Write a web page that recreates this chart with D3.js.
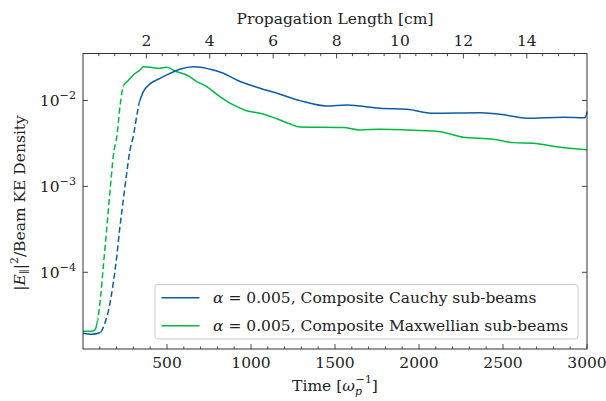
<!DOCTYPE html>
<html>
<head>
<meta charset="utf-8">
<script src="https://cdn.jsdelivr.net/npm/d3@7"></script>
<style>
  body { margin: 0; background: #fff; }
  text { font-family: "DejaVu Serif", serif; fill: #222; }
</style>
</head>
<body>
<svg id="chart" width="606" height="401"></svg>
<script>
// Field energy |E_par|^2 normalised by beam kinetic energy density, vs time (1/omega_p)
const cauchyTime  = [0, 50, 101, 131, 157, 180, 201, 220, 240, 260, 280, 299, 323, 335,
                     359, 399, 458, 518, 577, 657, 776, 835, 935, 1054, 1173, 1292, 1451,
                     1570, 1768, 1927, 2085, 2363, 2522, 2641, 2859, 2988, 3000];
const cauchyValue = [1.95e-5, 1.90e-5, 1.98e-5, 2.59e-5, 4.00e-5, 7.48e-5, 1.53e-4, 3.41e-4,
                     6.97e-4, 1.42e-3, 2.66e-3, 3.79e-3, 7.16e-3, 9.42e-3,
                     1.26e-2, 1.56e-2, 1.81e-2, 2.07e-2, 2.31e-2, 2.47e-2, 2.26e-2, 2.07e-2,
                     1.66e-2, 1.39e-2, 1.18e-2, 9.95e-3, 8.63e-3, 8.87e-3, 8.11e-3, 7.90e-3,
                     7.10e-3, 7.21e-3, 6.73e-3, 6.21e-3, 6.38e-3, 6.31e-3, 7.41e-3];

const maxwellTime  = [0, 50, 71, 91, 105, 121, 137, 151, 165, 180, 204, 220, 242, 263, 299,
                      339, 359, 399, 458, 498, 558, 617, 677, 736, 815, 895, 974, 1054, 1173,
                      1230, 1292, 1549, 1649, 1768, 1966, 2125, 2264, 2442, 2561, 2680, 2820, 3000];
const maxwellValue = [2.06e-5, 2.06e-5, 2.14e-5, 3.06e-5, 5.24e-5, 1.17e-4, 2.61e-4, 5.33e-4,
                      1.09e-3, 2.22e-3, 4.16e-3, 8.47e-3, 1.51e-2, 1.66e-2, 1.98e-2, 2.26e-2,
                      2.47e-2, 2.43e-2, 2.37e-2, 2.43e-2, 2.16e-2, 1.98e-2, 1.66e-2, 1.45e-2,
                      1.11e-2, 8.87e-3, 7.60e-3, 7.10e-3, 5.93e-3, 5.35e-3, 4.90e-3, 4.83e-3,
                      4.54e-3, 4.62e-3, 4.50e-3, 4.33e-3, 3.73e-3, 3.54e-3, 3.23e-3, 3.18e-3,
                      2.90e-3, 2.66e-3];

// time windows drawn dashed (linear growth phase)
const cauchyDashed  = [105, 335];
const maxwellDashed = [86, 242];

const seriesNames  = ["Composite Cauchy sub-beams", "Composite Maxwellian sub-beams"];
const seriesAlpha  = ["0.005", "0.005"];
const seriesColors = ["#0C5DA5", "#00B945"];

const xTickValues   = [500, 1000, 1500, 2000, 2500, 3000];
const yTickExponent = [-4, -3, -2];
const topTickValues = [2, 4, 6, 8, 10, 12, 14];
const cmPerTime     = 15.9 / 3000;   // propagation length per unit time

const W = 606, H = 401;
const m = { left: 83, right: 19, top: 53.5, bottom: 52 };
const svg = d3.select("#chart");

const x = d3.scaleLinear().domain([0, 3000]).range([m.left, W - m.right]);
const y = d3.scaleLog().domain([1.28e-5, 3.52e-2]).range([H - m.bottom, m.top]);
const xTop = d3.scaleLinear().domain([0, 3000 * cmPerTime]).range([m.left, W - m.right]);

const x0 = m.left, x1 = W - m.right, y0 = m.top, y1 = H - m.bottom;

// clip regions
const defs = svg.append("defs");
function clipRects(id, ranges) {
  const c = defs.append("clipPath").attr("id", id);
  ranges.forEach(([a, b]) => c.append("rect")
    .attr("x", a).attr("y", y0).attr("width", Math.max(0, b - a)).attr("height", y1 - y0));
}

const series = [
  { t: cauchyTime, v: cauchyValue, dash: cauchyDashed },
  { t: maxwellTime, v: maxwellValue, dash: maxwellDashed }
];

const line = d3.line().x(d => x(d[0])).y(d => y(d[1])).curve(d3.curveMonotoneX);

[1, 0].forEach(i => {
  const s = series[i];
  const pts = s.t.map((t, k) => [t, s.v[k]]);
  const xa = x(s.dash[0]), xb = x(s.dash[1]);
  clipRects("solid" + i, [[x0 - 2, xa], [xb, x1 + 2]]);
  clipRects("dash" + i, [[xa, xb]]);
  svg.append("path").datum(pts).attr("d", line)
    .attr("fill", "none").attr("stroke", seriesColors[i]).attr("stroke-width", 1.5)
    .attr("clip-path", `url(#solid${i})`);
  svg.append("path").datum(pts).attr("d", line)
    .attr("fill", "none").attr("stroke", seriesColors[i]).attr("stroke-width", 1.5)
    .attr("stroke-dasharray", "6,3.2")
    .attr("clip-path", `url(#dash${i})`);
});

// ticks (all pointing inward)
const tickG = svg.append("g").attr("stroke", "#333").attr("stroke-width", 0.9);
const minorX = d3.range(100, 3000, 100).filter(v => v % 500 !== 0);
xTickValues.forEach(v => {
  tickG.append("line").attr("x1", x(v)).attr("x2", x(v)).attr("y1", y1).attr("y2", y1 - 5);
});
minorX.forEach(v => {
  tickG.append("line").attr("x1", x(v)).attr("x2", x(v)).attr("y1", y1).attr("y2", y1 - 2.6);
});
const minorTop = d3.range(0.5, 3000 * cmPerTime, 0.5).filter(v => v % 2 !== 0);
topTickValues.forEach(v => {
  tickG.append("line").attr("x1", xTop(v)).attr("x2", xTop(v)).attr("y1", y0).attr("y2", y0 + 5);
});
minorTop.forEach(v => {
  tickG.append("line").attr("x1", xTop(v)).attr("x2", xTop(v)).attr("y1", y0).attr("y2", y0 + 2.6);
});
yTickExponent.forEach(e => {
  const yy = y(Math.pow(10, e));
  tickG.append("line").attr("x1", x0).attr("x2", x0 + 5).attr("y1", yy).attr("y2", yy);
  tickG.append("line").attr("x1", x1).attr("x2", x1 - 5).attr("y1", yy).attr("y2", yy);
});

// frame
svg.append("rect").attr("x", x0).attr("y", y0).attr("width", x1 - x0).attr("height", y1 - y0)
  .attr("fill", "none").attr("stroke", "#333").attr("stroke-width", 1);

const FS = 15.5;
// bottom tick labels
xTickValues.forEach(v => {
  svg.append("text").attr("x", x(v)).attr("y", 368).attr("text-anchor", "middle")
    .attr("font-size", FS).text(v);
});
// top tick labels
topTickValues.forEach(v => {
  svg.append("text").attr("x", xTop(v)).attr("y", 45.5).attr("text-anchor", "middle")
    .attr("font-size", FS).text(v);
});
// y tick labels 10^e
yTickExponent.forEach(e => {
  const t = svg.append("text").attr("x", 76).attr("y", y(Math.pow(10, e)) + 5.5)
    .attr("text-anchor", "end").attr("font-size", FS);
  t.append("tspan").text("10");
  t.append("tspan").attr("dy", -7).attr("font-size", FS * 0.72).text("\u2212" + Math.abs(e));
});

// axis titles
const xt = svg.append("text").attr("x", 335).attr("y", 391).attr("text-anchor", "middle")
  .attr("font-size", FS);
xt.append("tspan").text("Time [");
xt.append("tspan").attr("font-style", "italic").text("\u03C9");
xt.append("tspan").attr("font-style", "italic").attr("font-size", FS * 0.7).attr("dy", 4).text("p");
xt.append("tspan").attr("font-size", FS * 0.7).attr("dx", -6).attr("dy", -12).text("\u22121");
xt.append("tspan").attr("dy", 8).text("]");

svg.append("text").attr("x", 335).attr("y", 24).attr("text-anchor", "middle")
  .attr("font-size", FS).text("Propagation Length [cm]");

const yt = svg.append("text").attr("transform", "translate(25,203) rotate(-90)")
  .attr("text-anchor", "middle").attr("font-size", FS);
yt.append("tspan").text("|");
yt.append("tspan").attr("font-style", "italic").text("E");
yt.append("tspan").attr("font-size", FS * 0.7).attr("dy", 3).text("\u2225");
yt.append("tspan").attr("dy", -3).text("|");
yt.append("tspan").attr("font-size", FS * 0.7).attr("dy", -7).text("2");
yt.append("tspan").attr("dy", 7).text("/Beam KE Density");

// legend
const lg = svg.append("g");
lg.append("rect").attr("x", 155).attr("y", 284.5).attr("width", 423).attr("height", 54.5)
  .attr("rx", 3).attr("fill", "#fff").attr("fill-opacity", 0.8)
  .attr("stroke", "#cccccc").attr("stroke-width", 1);
seriesNames.forEach((name, i) => {
  const ly = 297.7 + i * 28;
  lg.append("line").attr("x1", 161.5).attr("x2", 199.5).attr("y1", ly).attr("y2", ly)
    .attr("stroke", seriesColors[i]).attr("stroke-width", 1.5);
  const t = lg.append("text").attr("x", 213).attr("y", ly + 5.5).attr("font-size", FS);
  t.append("tspan").attr("font-style", "italic").text("\u03B1");
  t.append("tspan").text(" = " + seriesAlpha[i] + ", " + name);
});
</script>
</body>
</html>
